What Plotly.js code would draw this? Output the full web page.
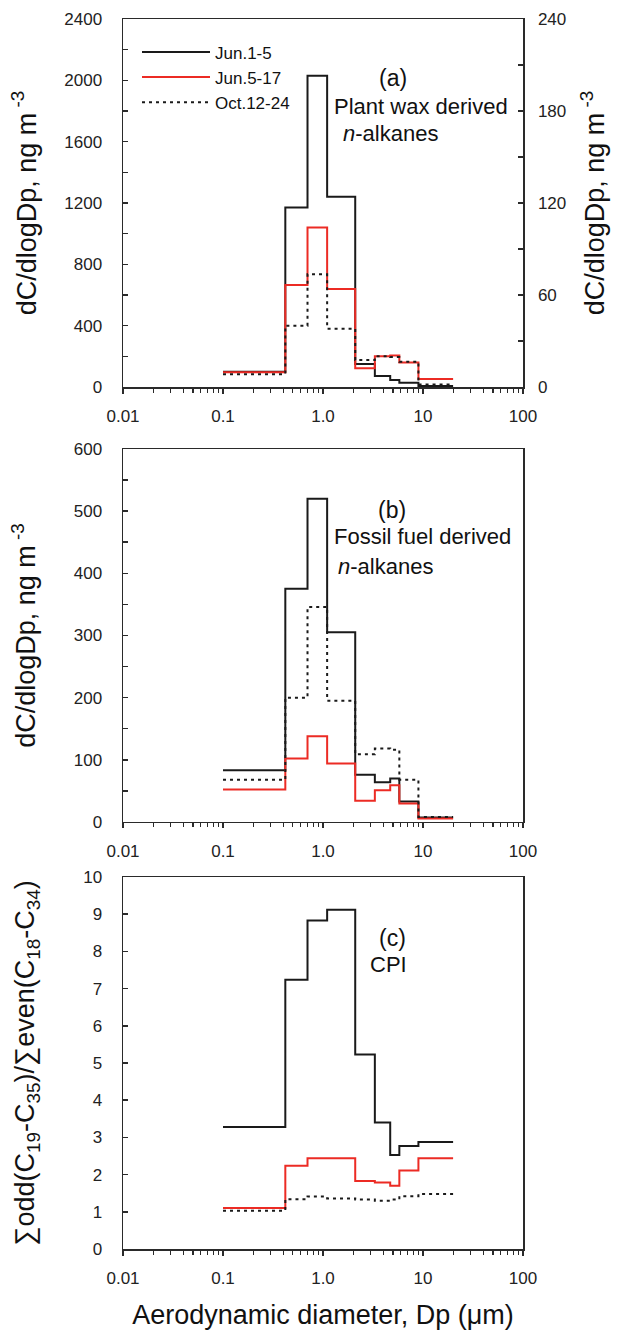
<!DOCTYPE html>
<html>
<head>
<meta charset="utf-8">
<script src="https://cdn.plot.ly/plotly-3.0.1.min.js"></script>
<style>html,body{margin:0;padding:0;background:#fff;}#chart{width:620px;height:1330px;}</style>
</head>
<body>
<div id="chart"></div>
<script>
// Impactor bin edges (µm): each series value applies between consecutive edges
const binEdges = [0.1, 0.42, 0.7, 1.1, 2.1, 3.3, 4.7, 5.8, 9.0, 20];
const seriesNames = ['Jun.1-5', 'Jun.5-17', 'Oct.12-24'];

// (a) Plant wax derived n-alkanes, dC/dlogDp (ng m-3)
// Jun.1-5 on left axis (0-2400); Jun.5-17 and Oct.12-24 on right axis (0-240)
const plantJun1_5  = [100, 1170, 2030, 1240, 150, 72, 46, 28, 7];
const plantJun5_17 = [9.7, 66.5, 104, 64, 12.2, 20, 20.5, 16, 5.2];
const plantOct     = [8.3, 40, 73.5, 38, 17.6, 20, 19.5, 16.5, 1.7];

// (b) Fossil fuel derived n-alkanes, dC/dlogDp (ng m-3)
const fossilJun1_5  = [83, 375, 520, 305, 76, 64, 70, 33, 7];
const fossilJun5_17 = [52, 102, 138, 94, 34, 51, 59, 29.5, 5.5];
const fossilOct     = [68, 200, 346, 195, 109, 118, 116, 68, 8];

// (c) CPI
const cpiJun1_5  = [3.28, 7.24, 8.83, 9.12, 5.23, 3.40, 2.53, 2.77, 2.88];
const cpiJun5_17 = [1.10, 2.24, 2.44, 2.44, 1.83, 1.79, 1.70, 2.11, 2.44];
const cpiOct     = [1.03, 1.34, 1.41, 1.36, 1.33, 1.30, 1.33, 1.42, 1.48];

// axis ticks
const xTickVals = [0.01, 0.1, 1, 10, 100];
const xTickText = ['0.01', '0.1', '1.0', '10', '100'];

const FONT = 'Liberation Sans, Arial, sans-serif';
const BLACK = '#1a1a1a';
const RED = '#ec2b24';
const AXC = '#2a2a2a';

const minorX = [];
[0.01, 0.1, 1, 10].forEach(d => { for (let k = 2; k <= 9; k++) minorX.push(d * k); });

function stepY(vals) { return vals.concat([vals[vals.length - 1]]); }

const styles = [
  {color: BLACK, width: 2, dash: 'solid'},
  {color: RED, width: 2, dash: 'solid'},
  {color: BLACK, width: 2, dash: '3px,4px'}
];

function tr(vals, i, xa, ya, legend) {
  return {
    type: 'scatter', mode: 'lines',
    x: binEdges.slice(), y: stepY(vals),
    xaxis: xa, yaxis: ya,
    name: seriesNames[i], showlegend: legend,
    line: Object.assign({shape: 'hv'}, styles[i]),
    hoverinfo: 'x+y+name'
  };
}

const data = [
  tr(plantJun1_5, 0, 'x', 'y', true),
  tr(plantJun5_17, 1, 'x', 'y2', true),
  tr(plantOct, 2, 'x', 'y2', true),
  tr(fossilJun1_5, 0, 'x2', 'y3', false),
  tr(fossilJun5_17, 1, 'x2', 'y3', false),
  tr(fossilOct, 2, 'x2', 'y3', false),
  tr(cpiJun1_5, 0, 'x3', 'y4', false),
  tr(cpiJun5_17, 1, 'x3', 'y4', false),
  tr(cpiOct, 2, 'x3', 'y4', false)
];

function xAxis(anchor, title) {
  const ax = {
    type: 'log', range: [-2, 2], anchor: anchor, domain: [0, 1],
    tickmode: 'array', tickvals: xTickVals, ticktext: xTickText,
    ticks: 'outside', ticklen: 5, tickwidth: 1.5, tickcolor: AXC,
    minor: {tickmode: 'array', tickvals: minorX, ticks: 'outside', ticklen: 4, tickwidth: 1.2, tickcolor: AXC, showgrid: false},
    showline: true, linecolor: AXC, linewidth: 1.5, mirror: true,
    showgrid: false, zeroline: false, fixedrange: true,
    tickfont: {family: FONT, size: 17, color: '#222'},
    ticklabelstandoff: 8
  };
  if (title) ax.title = {text: title, font: {family: FONT, size: 27, color: '#111'}, standoff: 20};
  return ax;
}

function yAxis(anchor, domain, range, dtick, minorDtick, title, standoff) {
  const ax = {
    anchor: anchor, domain: domain, range: range,
    tickmode: 'linear', tick0: 0, dtick: dtick,
    ticks: 'inside', ticklen: 5, tickwidth: 1.5, tickcolor: AXC,
    showline: true, linecolor: AXC, linewidth: 1.5, mirror: true,
    showgrid: false, zeroline: false, fixedrange: true,
    tickfont: {family: FONT, size: 17, color: '#222'},
    ticklabelstandoff: 16,
    title: {text: title, font: {family: FONT, size: 27, color: '#111'}, standoff: standoff}
  };
  if (minorDtick) ax.minor = {dtick: minorDtick, tick0: 0, ticks: 'inside', ticklen: 5, tickwidth: 1.5, tickcolor: AXC, showgrid: false};
  return ax;
}

const concTitle = 'dC/dlogDp, ng m<sup> -3</sup>';
const cpiTitle = '\u2211odd(C<sub>19</sub>-C<sub>35</sub>)/\u2211even(C<sub>18</sub>-C<sub>34</sub>)';

const layout = {
  width: 620, height: 1330,
  margin: {l: 123, r: 97, t: 19, b: 81},
  paper_bgcolor: '#fff', plot_bgcolor: '#fff',
  font: {family: FONT, color: '#111'},
  showlegend: true,
  legend: {
    x: 0.035, y: 0.9875, xanchor: 'left', yanchor: 'top',
    bgcolor: 'rgba(0,0,0,0)', borderwidth: 0,
    font: {family: FONT, size: 17, color: '#111'},
    tracegroupgap: 0, itemwidth: 68
  },
  xaxis: xAxis('y'),
  yaxis: yAxis('x', [0.7008, 1], [0, 2400], 400, 200, concTitle, 20),
  yaxis2: {
    overlaying: 'y', side: 'right', anchor: 'x', range: [0, 240],
    tickmode: 'linear', tick0: 0, dtick: 60,
    ticks: 'inside', ticklen: 5, tickwidth: 1.5, tickcolor: AXC,
    minor: {dtick: 30, tick0: 0, ticks: 'inside', ticklen: 5, tickwidth: 1.5, tickcolor: AXC, showgrid: false},
    showline: true, linecolor: AXC, linewidth: 1.5,
    showgrid: false, zeroline: false, fixedrange: true,
    tickfont: {family: FONT, size: 17, color: '#222'},
    ticklabelstandoff: 10,
    title: {text: concTitle, font: {family: FONT, size: 27, color: '#111'}, standoff: 20}
  },
  xaxis2: xAxis('y3'),
  yaxis3: yAxis('x2', [0.3472, 0.6504], [0, 600], 100, 50, concTitle, 30),
  xaxis3: xAxis('y4', 'Aerodynamic diameter, Dp (\u03bcm)'),
  yaxis4: yAxis('x3', [0, 0.3024], [0, 10], 1, null, cpiTitle, 40),
  annotations: [
    {xref: 'paper', yref: 'paper', x: 0.675, y: 0.952, text: '(a)', showarrow: false, font: {family: FONT, size: 23, color: '#111'}, xanchor: 'center', yanchor: 'middle'},
    {xref: 'paper', yref: 'paper', x: 0.522, y: 0.929, text: 'Plant wax derived', showarrow: false, font: {family: FONT, size: 22, color: '#111'}, xanchor: 'left', yanchor: 'middle'},
    {xref: 'paper', yref: 'paper', x: 0.545, y: 0.907, text: '<i>n</i>-alkanes', showarrow: false, font: {family: FONT, size: 22, color: '#111'}, xanchor: 'left', yanchor: 'middle'},
    {xref: 'paper', yref: 'paper', x: 0.673, y: 0.601, text: '(b)', showarrow: false, font: {family: FONT, size: 23, color: '#111'}, xanchor: 'center', yanchor: 'middle'},
    {xref: 'paper', yref: 'paper', x: 0.522, y: 0.579, text: 'Fossil fuel derived', showarrow: false, font: {family: FONT, size: 22, color: '#111'}, xanchor: 'left', yanchor: 'middle'},
    {xref: 'paper', yref: 'paper', x: 0.532, y: 0.555, text: '<i>n</i>-alkanes', showarrow: false, font: {family: FONT, size: 22, color: '#111'}, xanchor: 'left', yanchor: 'middle'},
    {xref: 'paper', yref: 'paper', x: 0.673, y: 0.253, text: '(c)', showarrow: false, font: {family: FONT, size: 23, color: '#111'}, xanchor: 'center', yanchor: 'middle'},
    {xref: 'paper', yref: 'paper', x: 0.664, y: 0.231, text: 'CPI', showarrow: false, font: {family: FONT, size: 22, color: '#111'}, xanchor: 'center', yanchor: 'middle'}
  ]
};

Plotly.newPlot('chart', data, layout, {displayModeBar: false, staticPlot: true});
</script>
</body>
</html>
